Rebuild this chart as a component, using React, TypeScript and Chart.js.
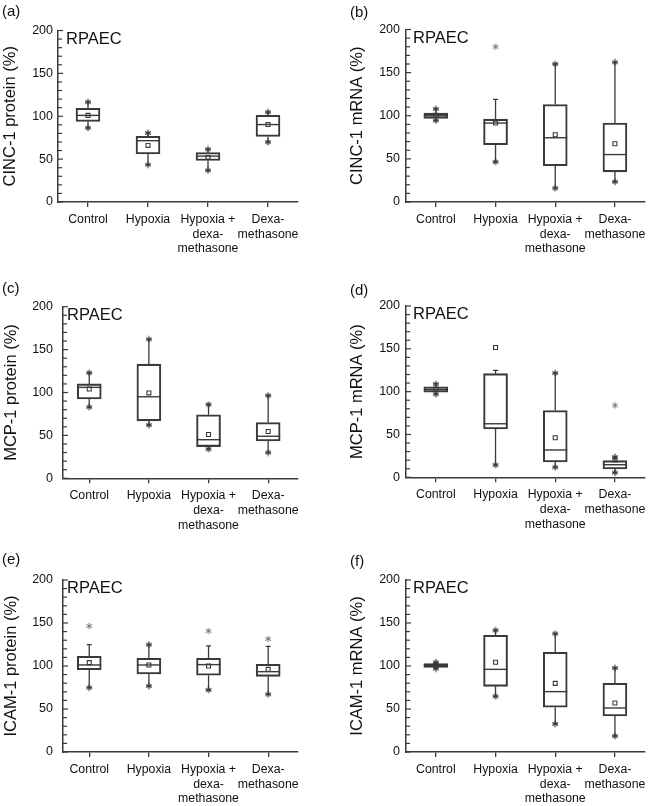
import React, { useEffect, useRef } from 'react';
import { Chart, registerables } from 'chart.js';
Chart.register(...registerables);

const FONT = "'Liberation Sans', Arial, Helvetica, sans-serif";
const INK = '#3a3a3a';
const TEXT = '#111111';

const categoryLabels = [['Control'], ['Hypoxia'], ['Hypoxia +', 'dexa-', 'methasone'], ['Dexa-', 'methasone']];
const categoryIndex = [0, 1, 2, 3];
const yTickValues = [0, 10, 20, 30, 40, 50, 60, 70, 80, 90, 100, 110, 120, 130, 140, 150, 160, 170, 180, 190, 200];
const yLabelValues = [0, 50, 100, 150, 200];

// (a) CINC-1 protein
const aQ1 = [94, 56, 48.4, 76.5];
const aMedian = [101, 71.5, 53.5, 90.3];
const aQ3 = [109.3, 76.7, 57.7, 101];
const aMean = [101, 66, 52, 90.3];
const aLow = [86.5, 43.5, 36.8, 69.8];
const aHigh = [116.5, 80.5, 61.5, 104.8];
const aLowStar = [86.5, 43.5, 36.8, 69.8];
const aHighStar = [116.5, 80.5, 61.5, 104.8];
const aOutlier = [null, null, null, null];

// (b) CINC-1 mRNA
const bQ1 = [97, 66.5, 42, 35];
const bMedian = [100, 91.5, 74.5, 55];
const bQ3 = [103, 96, 113, 91.5];
const bMean = [100.5, 91.5, 78, 67.5];
const bLow = [94.5, 46.5, 16, 23.5];
const bHigh = [108, 119, 160, 162];
const bLowStar = [94.5, 46.5, 16, 23.5];
const bHighStar = [108, null, 160, 162];
const bOutlier = [null, 180, null, null];

// (c) MCP-1 protein
const cQ1 = [92.5, 67, 37, 43.5];
const cMedian = [106, 95, 45, 49];
const cQ3 = [110, 133, 74, 65];
const cMean = [104, 99.5, 51, 54.5];
const cLow = [83, 62, 34, 30];
const cHigh = [123, 162, 86, 96.5];
const cLowStar = [83, 62, 34, 30];
const cHighStar = [123, 162, 86, 96.5];
const cOutlier = [null, null, null, null];

// (d) MCP-1 mRNA
const dQ1 = [99.5, 56.4, 18, 9.7];
const dMedian = [102.7, 62.5, 31.9, 14.7];
const dQ3 = [105.7, 121, 78, 19.4];
const dMean = [103, 151.5, 46.2, 20.2];
const dLow = [97, 14.3, 11.7, 5.4];
const dHigh = [109, 124.8, 121.7, 23.7];
const dLowStar = [97, 14.3, 11.7, 5.4];
const dHighStar = [109, null, 121.7, 23.7];
const dOutlier = [null, null, null, 84];

// (e) ICAM-1 protein
const eQ1 = [95.7, 90.7, 89.2, 88];
const eMedian = [101.2, 101.2, 101.6, 93.4];
const eQ3 = [111.3, 108.9, 108.9, 102];
const eMean = [103.9, 101.2, 100, 96.1];
const eLow = [74.8, 76.7, 72.1, 67.1];
const eHigh = [124.8, 124.8, 123.3, 122.9];
const eLowStar = [74.8, 76.7, 72.1, 67.1];
const eHighStar = [null, 124.8, null, null];
const eOutlier = [146.5, null, 140.7, 131.4];

// (f) ICAM-1 mRNA
const fQ1 = [98.4, 76.4, 52, 41.9];
const fMedian = [100.8, 96.1, 70.2, 51.2];
const fQ3 = [102.7, 135.7, 115.9, 79.8];
const fMean = [101, 104.3, 79.8, 57];
const fLow = [96.9, 64.7, 32.6, 18.6];
const fHigh = [104.3, 141.5, 137.6, 97.7];
const fLowStar = [96.9, 64.7, 32.6, 18.6];
const fHighStar = [104.3, 141.5, 137.6, 97.7];
const fOutlier = [null, null, null, null];

type Num = number | null;
type Panel = {
  id: string; yTitle: string;
  q1: number[]; median: number[]; q3: number[]; mean: number[];
  low: number[]; high: number[]; lowStar: Num[]; highStar: Num[]; outlier: Num[];
};

const panels: Panel[] = [
  { id: 'a', yTitle: 'CINC-1 protein (%)', q1: aQ1, median: aMedian, q3: aQ3, mean: aMean, low: aLow, high: aHigh, lowStar: aLowStar, highStar: aHighStar, outlier: aOutlier },
  { id: 'b', yTitle: 'CINC-1 mRNA (%)', q1: bQ1, median: bMedian, q3: bQ3, mean: bMean, low: bLow, high: bHigh, lowStar: bLowStar, highStar: bHighStar, outlier: bOutlier },
  { id: 'c', yTitle: 'MCP-1 protein (%)', q1: cQ1, median: cMedian, q3: cQ3, mean: cMean, low: cLow, high: cHigh, lowStar: cLowStar, highStar: cHighStar, outlier: cOutlier },
  { id: 'd', yTitle: 'MCP-1 mRNA (%)', q1: dQ1, median: dMedian, q3: dQ3, mean: dMean, low: dLow, high: dHigh, lowStar: dLowStar, highStar: dHighStar, outlier: dOutlier },
  { id: 'e', yTitle: 'ICAM-1 protein (%)', q1: eQ1, median: eMedian, q3: eQ3, mean: eMean, low: eLow, high: eHigh, lowStar: eLowStar, highStar: eHighStar, outlier: eOutlier },
  { id: 'f', yTitle: 'ICAM-1 mRNA (%)', q1: fQ1, median: fMedian, q3: fQ3, mean: fMean, low: fLow, high: fHigh, lowStar: fLowStar, highStar: fHighStar, outlier: fOutlier },
];

type Layout = {
  x: number; y: number; w: number; h: number;
  left: number; right: number; top: number; bottom: number;
  xMin: number; titlePad: number; tickPad: number;
  labelX: number; labelY: number; rpaecX: number;
};

const layouts: Record<string, Layout> = {
  a: { x: 0, y: 0, w: 325, h: 268, left: 58, right: 298, top: 30.5, bottom: 202, xMin: -0.5, titlePad: 0.5, tickPad: 5, labelX: 2, labelY: 16, rpaecX: 66 },
  b: { x: 325, y: 0, w: 326, h: 268, left: 81, right: 321, top: 29.5, bottom: 202, xMin: -0.5, titlePad: 22.5, tickPad: 6, labelX: 25, labelY: 17, rpaecX: 88 },
  c: { x: 0, y: 268, w: 325, h: 268, left: 63, right: 298, top: 38.7, bottom: 210.3, xMin: -0.44, titlePad: 1.5, tickPad: 10, labelX: 2, labelY: 25, rpaecX: 67 },
  d: { x: 325, y: 268, w: 326, h: 268, left: 81, right: 321, top: 38, bottom: 209.3, xMin: -0.5, titlePad: 22.5, tickPad: 6, labelX: 25, labelY: 27, rpaecX: 88 },
  e: { x: 0, y: 536, w: 325, h: 270, left: 63, right: 298, top: 44, bottom: 216, xMin: -0.44, titlePad: 1.5, tickPad: 10, labelX: 2, labelY: 28, rpaecX: 67 },
  f: { x: 325, y: 536, w: 326, h: 270, left: 81, right: 321, top: 44, bottom: 216, xMin: -0.5, titlePad: 22.5, tickPad: 6, labelX: 25, labelY: 30, rpaecX: 88 },
};

const pts = (vals: Num[]) =>
  vals.map((v, i) => (v === null ? null : { x: categoryIndex[i], y: v })).filter((p) => p !== null);

function makeAsterisk(color: string, lw: number) {
  const size = 8;
  const c = document.createElement('canvas');
  c.width = size;
  c.height = size;
  const g = c.getContext('2d')!;
  g.strokeStyle = color;
  g.lineWidth = lw;
  g.lineCap = 'butt';
  const r = 3.2;
  const cx = size / 2;
  const cy = size / 2;
  g.beginPath();
  [90, 30, 150].forEach((deg) => {
    const a = (deg * Math.PI) / 180;
    g.moveTo(cx - r * Math.cos(a), cy - r * Math.sin(a));
    g.lineTo(cx + r * Math.cos(a), cy + r * Math.sin(a));
  });
  g.stroke();
  return c;
}

function makeExtras(panel: Panel, L: Layout) {
  return {
    id: 'boxExtras',
    beforeDatasetsDraw(chart: any) {
      const { ctx } = chart;
      const xs = chart.scales.x;
      const ys = chart.scales.y;
      ctx.save();
      ctx.strokeStyle = INK;
      ctx.lineWidth = 1.3;
      panel.q1.forEach((q1, i) => {
        const x = xs.getPixelForValue(categoryIndex[i]);
        const yHi = ys.getPixelForValue(panel.high[i]);
        const yLo = ys.getPixelForValue(panel.low[i]);
        ctx.beginPath();
        ctx.moveTo(x, ys.getPixelForValue(panel.q3[i]));
        ctx.lineTo(x, yHi);
        ctx.moveTo(x, ys.getPixelForValue(q1));
        ctx.lineTo(x, yLo);
        ctx.moveTo(x - 2.5, yHi);
        ctx.lineTo(x + 2.5, yHi);
        ctx.moveTo(x - 2.5, yLo);
        ctx.lineTo(x + 2.5, yLo);
        ctx.stroke();
      });
      ctx.restore();
    },
    afterDatasetsDraw(chart: any) {
      const { ctx } = chart;
      const xs = chart.scales.x;
      const ys = chart.scales.y;
      ctx.save();
      ctx.strokeStyle = INK;
      ctx.lineWidth = 1.4;
      panel.median.forEach((m, i) => {
        const x = xs.getPixelForValue(categoryIndex[i]);
        const y = ys.getPixelForValue(m);
        ctx.beginPath();
        ctx.moveTo(x - 12, y);
        ctx.lineTo(x + 12, y);
        ctx.stroke();
      });
      ctx.restore();
    },
    afterDraw(chart: any) {
      const { ctx, chartArea } = chart;
      const ys = chart.scales.y;
      ctx.save();
      ctx.strokeStyle = INK;
      ctx.lineWidth = 1.2;
      yTickValues.forEach((v) => {
        const y = ys.getPixelForValue(v);
        const len = yLabelValues.includes(v) ? 5 : 4;
        ctx.beginPath();
        ctx.moveTo(chartArea.left, y);
        ctx.lineTo(chartArea.left + len, y);
        ctx.stroke();
      });
      ctx.fillStyle = TEXT;
      ctx.textBaseline = 'alphabetic';
      ctx.textAlign = 'left';
      ctx.font = `16.5px ${FONT}`;
      ctx.fillText('RPAEC', L.rpaecX, chartArea.top + 13);
      ctx.font = `15px ${FONT}`;
      ctx.fillText(`(${panel.id})`, L.labelX, L.labelY);
      ctx.restore();
    },
  };
}

function PanelChart({ panel }: { panel: Panel }) {
  const ref = useRef<HTMLCanvasElement | null>(null);
  const L = layouts[panel.id];
  useEffect(() => {
    if (!ref.current) return;
    const darkStar = makeAsterisk(INK, 1.2);
    const lightStar = makeAsterisk('#6a6a6a', 1);
    const starBase = {
      type: 'line' as const,
      showLine: false,
      pointStyle: darkStar,
      pointRadius: 4,
    };
    const chart = new Chart(ref.current, {
      type: 'bar',
      data: {
        datasets: [
          {
            type: 'bar',
            data: panel.q1.map((v, i) => ({ x: categoryIndex[i], y: [v, panel.q3[i]] })) as any,
            backgroundColor: 'rgba(0,0,0,0)',
            borderColor: INK,
            borderWidth: 1.4,
            borderSkipped: false,
            barThickness: 24,
          },
          {
            type: 'line',
            data: pts(panel.mean) as any,
            showLine: false,
            pointStyle: 'rect',
            pointRadius: 2.8,
            pointBorderWidth: 1.1,
            pointBorderColor: INK,
            pointBackgroundColor: 'rgba(0,0,0,0)',
          },
          { ...starBase, data: pts(panel.lowStar) as any },
          { ...starBase, data: pts(panel.highStar) as any },
          { ...starBase, data: pts(panel.outlier) as any, pointStyle: lightStar },
        ] as any,
      },
      options: {
        animation: false,
        responsive: false,
        devicePixelRatio: 1,
        events: [],
        layout: { padding: { left: 0, right: L.w - L.right, top: L.top, bottom: 0 } },
        plugins: { legend: { display: false }, tooltip: { enabled: false }, title: { display: false } },
        scales: {
          x: {
            type: 'linear',
            position: 'bottom',
            min: L.xMin,
            max: 3.5,
            offset: false,
            afterBuildTicks: (s: any) => {
              s.ticks = categoryIndex.map((v) => ({ value: v }));
            },
            afterFit: (s: any) => {
              s.height = L.h - L.bottom;
            },
            grid: { display: true, drawOnChartArea: false, drawTicks: true, tickLength: 5, color: INK, lineWidth: 1.3, offset: false },
            border: { display: true, color: INK, width: 1.5 },
            ticks: {
              autoSkip: false,
              maxRotation: 0,
              minRotation: 0,
              padding: 5,
              color: TEXT,
              font: { family: FONT, size: 12.3, lineHeight: 1.2 },
              callback: (v: any) => categoryLabels[v as number] ?? '',
            },
          },
          y: {
            type: 'linear',
            min: 0,
            max: 200,
            afterBuildTicks: (s: any) => {
              s.ticks = yTickValues.map((v) => ({ value: v }));
            },
            afterFit: (s: any) => {
              s.width = L.left;
            },
            grid: { display: true, drawOnChartArea: false, drawTicks: false },
            border: { display: true, color: INK, width: 1.5 },
            ticks: {
              autoSkip: false,
              padding: L.tickPad,
              color: TEXT,
              font: { family: FONT, size: 12.5 },
              callback: (v: any) => (yLabelValues.includes(v as number) ? String(v) : ''),
            },
            title: {
              display: true,
              text: panel.yTitle,
              color: TEXT,
              font: { family: FONT, size: 16.5 },
              padding: { top: L.titlePad, bottom: 0 },
            },
          },
        },
      } as any,
      plugins: [makeExtras(panel, L)],
    });
    return () => chart.destroy();
  }, [panel, L]);
  return (
    <canvas
      ref={ref}
      width={L.w}
      height={L.h}
      style={{ position: 'absolute', left: L.x, top: L.y, width: L.w, height: L.h }}
    />
  );
}

export default function App() {
  return (
    <div style={{ position: 'absolute', left: 0, top: 0, width: 651, height: 806, background: '#ffffff' }}>
      {panels.map((p) => (
        <PanelChart key={p.id} panel={p} />
      ))}
    </div>
  );
}
